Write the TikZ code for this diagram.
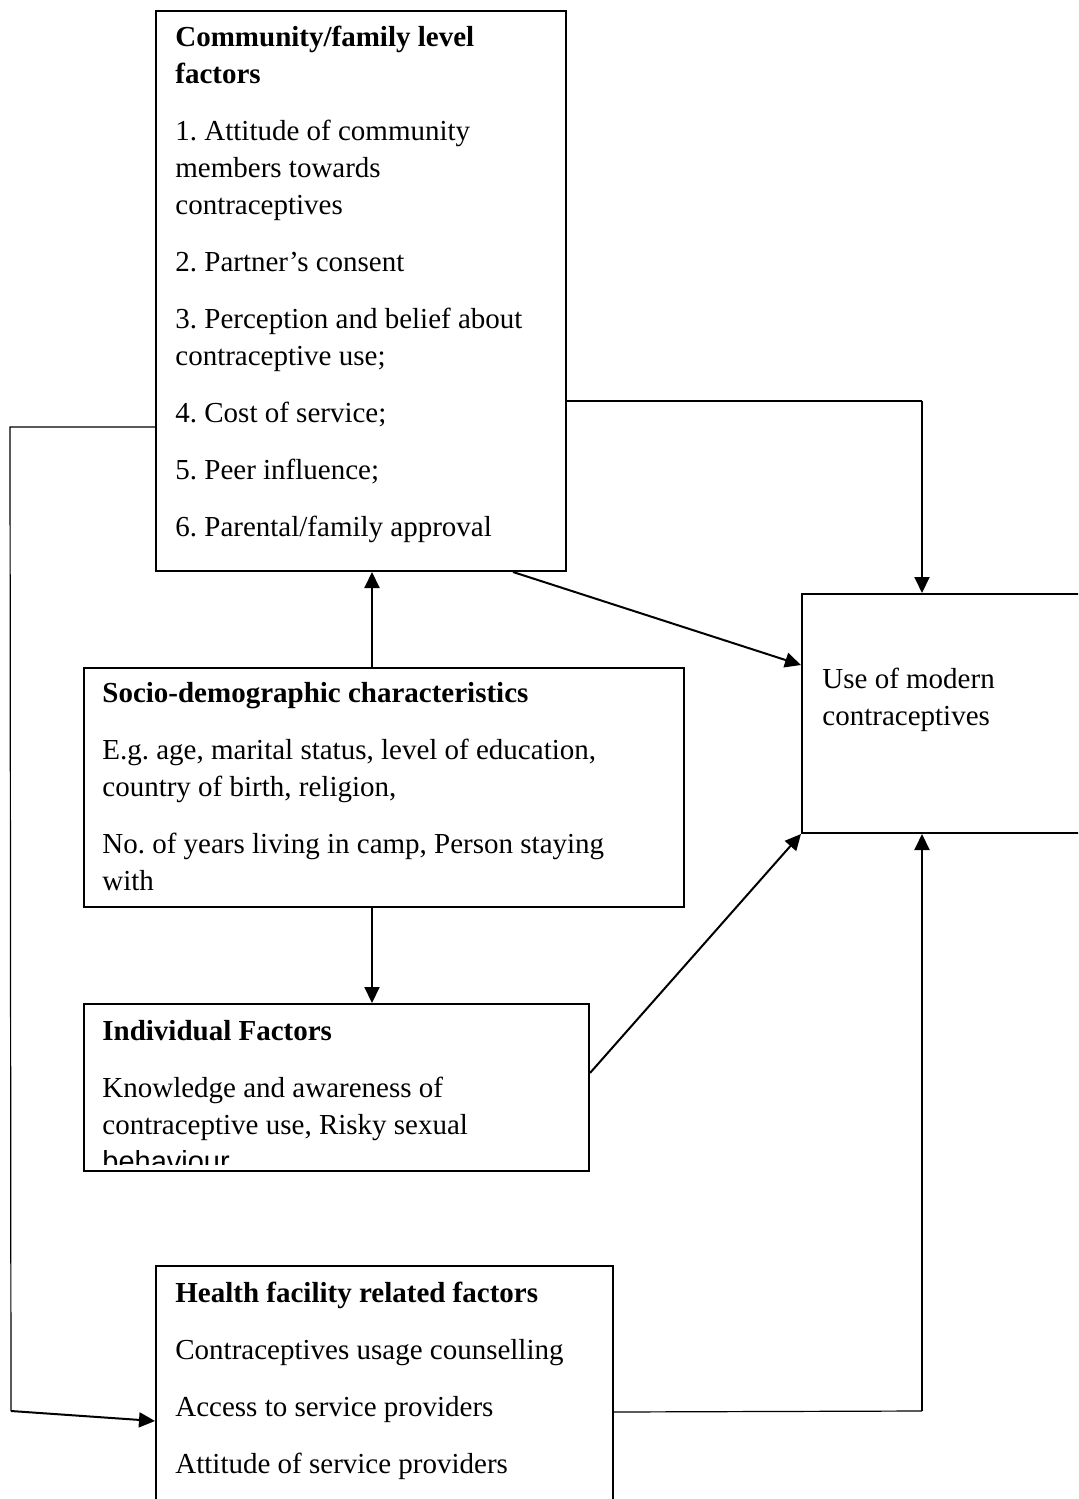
\documentclass[tikz,border=0pt]{standalone}
\usepackage{fontspec}
\setmainfont{Liberation Serif}
\newfontfamily\arialfont{Liberation Sans}
\usetikzlibrary{arrows.meta,calc}
\newcommand{\firstup}{\rule{0pt}{10pt}}
\frenchspacing

\begin{document}
\begin{tikzpicture}
[x=0.5pt, y=-0.5pt, font=\fontsize{14.5}{18.5}\selectfont,
box/.style={rectangle, draw, line width=1pt, inner sep=0pt, anchor=north west},
txt/.style={anchor=north west, inner sep=0pt, align=left},
link/.style={line width=0.6pt},
arrow/.style={line width=1pt, -{Triangle[length=8pt, width=7.5pt]}}]

\clip (0,0) rectangle (1078,1499);
\fill[white] (0,0) rectangle (1078,1499);

% boxes
\node[box, minimum width=205pt, minimum height=280pt] (comm) at (155,10) {};
\node[box, minimum width=300pt, minimum height=119.5pt] (socio) at (83,667) {};
\node[box, minimum width=252.5pt, minimum height=83.5pt] (indiv) at (83,1003) {};
\node[box, minimum width=228.5pt, minimum height=155pt] (health) at (155,1265) {};
\node[box, minimum width=154.5pt, minimum height=119.5pt] (use) at (801,593) {};

% texts (top of node = first baseline - 20)
\node[txt] (commtext) at (175,26) {\firstup\textbf{Community/family level}\\\textbf{factors}\\[10pt]
  1. Attitude of community\\members towards\\contraceptives\\[10pt]
  2. Partner’s consent\\[10pt]
  3. Perception and belief about\\contraceptive use;\\[10pt]
  4. Cost of service;\\[10pt]
  5. Peer influence;\\[10pt]
  6. Parental/family approval};
\node[txt] (sociotext) at (102,682) {\firstup\textbf{Socio-demographic characteristics}\\[10pt]
  E.g. age, marital status, level of education,\\country of birth, religion,\\[10pt]
  No. of years living in camp, Person staying\\with};
\begin{scope}
\clip (indiv.north west) rectangle ($(indiv.south east)+(0,-8)$);
\node[txt] (indivtext) at (102,1020) {\firstup\textbf{Individual Factors}\\[10pt]
  Knowledge and awareness of\\contraceptive use, Risky sexual\\{\arialfont behaviour}};
\end{scope}
\node[txt] (healthtext) at (175,1282) {\firstup\textbf{Health facility related factors}\\[10pt]
  Contraceptives usage counselling\\[10pt]
  Access to service providers\\[10pt]
  Attitude of service providers};
\node[txt] (usetext) at (822,668) {\firstup Use of modern\\contraceptives};

% connectors
\coordinate (turnA) at (922,401);
\coordinate (turnB) at (10,427);
\coordinate (turnC) at (11,1411);
\coordinate (turnD) at (922,1411);

\draw[link] (comm.east |- turnA) -- (turnA);
\draw[arrow] (turnA) -- (turnA |- use.north);

\draw[link] (comm.west |- turnB) -- (turnB) -- (turnC);
\draw[arrow] (turnC) -- (health.west);

\draw[arrow] ($(comm.south west)+(358,0)$) -- ($(use.north west)+(0,72)$);
\draw[arrow] ([xshift=-6pt]socio.north) -- ([xshift=-6pt]socio.north |- comm.south);
\draw[arrow] ([xshift=-6pt]socio.south) -- ([xshift=-6pt]socio.south |- indiv.north);
\draw[arrow] ($(indiv.north east)+(0,70)$) -- (use.south west);

\draw[link] ($(health.east)+(0,-9)$) -- (turnD);
\draw[arrow] (turnD) -- (turnD |- use.south);

\end{tikzpicture}
\end{document}
